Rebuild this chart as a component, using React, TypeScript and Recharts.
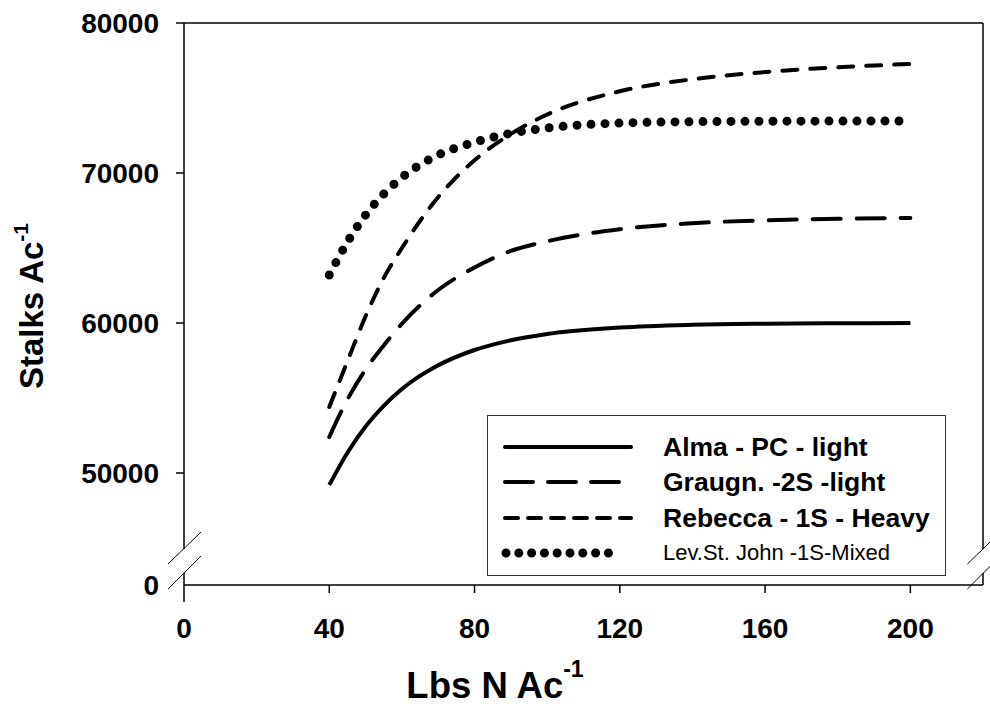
import React from "react";
import { LineChart, Line, XAxis, YAxis, ReferenceLine, Legend, Label } from "recharts";

// N rate (lbs N / acre)
const nRate = [40, 45, 50, 55, 60, 70, 80, 90, 100, 120, 140, 160, 180, 200];

// stalks per acre
const alma = [49200, 51350, 53100, 54480, 55600, 57180, 58200, 58850, 59270, 59700, 59880, 59950, 59980, 60000];
const graugn = [52400, 54900, 56900, 58500, 59950, 62200, 63700, 64800, 65450, 66250, 66650, 66850, 66950, 67000];
const rebecca = [54400, 57450, 60450, 63000, 65000, 68400, 70850, 72600, 73900, 75450, 76250, 76730, 77050, 77270];
const levStJohn = [63200, 65400, 67200, 68600, 69700, 71200, 72050, 72650, 73000, 73330, 73420, 73450, 73460, 73470];

const xTicks = [0, 40, 80, 120, 160, 200];
const yBottom = 42533; // broken axis: bottom drawn as "0"
const yTicks = [yBottom, 50000, 60000, 70000, 80000];

const seriesNames = ["Alma - PC - light", "Graugn. -2S -light", "Rebecca - 1S - Heavy", "Lev.St. John -1S-Mixed"];

const data = nRate.map((n, i) => ({
  n,
  alma: alma[i],
  graugn: graugn[i],
  rebecca: rebecca[i],
  lev: levStJohn[i],
}));

const font = "Arial, 'Liberation Sans', Helvetica, sans-serif";

const XTick = (props: any) => {
  const { x, payload } = props;
  return (
    <g>
      <line x1={x} y1={585} x2={x} y2={payload.value === 0 ? 602 : 593} stroke="#000" strokeWidth={1.5} />
      <text x={x} y={638} textAnchor="middle" fontFamily={font} fontWeight="bold" fontSize={28} fill="#000">
        {payload.value}
      </text>
    </g>
  );
};

const YTick = (props: any) => {
  const { y, payload } = props;
  const isZero = payload.value === yBottom;
  return (
    <g>
      {!isZero && <line x1={176} y1={y} x2={184} y2={y} stroke="#000" strokeWidth={1.5} />}
      <text x={159} y={y} dy="0.36em" textAnchor="end" fontFamily={font} fontWeight="bold" fontSize={28} fill="#000">
        {isZero ? 0 : payload.value}
      </text>
    </g>
  );
};

const LegendBox = () => {
  const rows = [
    { name: seriesNames[0], dash: undefined, w: 4, bold: true },
    { name: seriesNames[1], dash: "28 15", w: 4, bold: true },
    { name: seriesNames[2], dash: "13 10", w: 4, bold: true },
    { name: seriesNames[3], dash: "0 12.8", w: 9, bold: false },
  ];
  return (
    <div
      style={{
        width: 459,
        height: 161,
        boxSizing: "border-box",
        border: "1.5px solid #333",
        background: "#fff",
        position: "relative",
        fontFamily: font,
      }}
    >
      {rows.map((r, i) => (
        <div key={r.name} style={{ position: "absolute", left: 0, top: 31 + i * 35.3 - 15, height: 30, width: 459 }}>
          <svg width={150} height={30} style={{ position: "absolute", left: 0, top: 0 }}>
            <line
              x1={r.w === 9 ? 18 : 17}
              y1={15}
              x2={r.w === 9 ? 133 : 143}
              y2={15}
              stroke="#000"
              strokeWidth={r.w}
              strokeDasharray={r.dash}
              strokeLinecap="round"
            />
          </svg>
          <span
            style={{
              position: "absolute",
              left: 175,
              top: 0,
              lineHeight: "30px",
              fontSize: r.bold ? 26.5 : 22,
              fontWeight: r.bold ? "bold" : "normal",
              whiteSpace: "nowrap",
              color: "#000",
            }}
          >
            {r.name}
          </span>
        </div>
      ))}
    </div>
  );
};

export default function App() {
  const axis = { stroke: "#000", strokeWidth: 1.5 };
  return (
    <div style={{ position: "absolute", left: 0, top: 0, background: "#fff" }}>
      <LineChart width={990} height={707} data={data} margin={{ top: 23, right: 7, bottom: 0, left: 0 }}>
        <XAxis
          dataKey="n"
          type="number"
          domain={[0, 220]}
          ticks={xTicks}
          height={122}
          axisLine={axis}
          tickLine={false}
          tick={<XTick />}
          interval={0}
        >
          <Label
            content={() => (
              <text x={495} y={698} textAnchor="middle" fontFamily={font} fontWeight="bold" fontSize={36.5} fill="#000">
                Lbs N Ac
                <tspan dy={-21} fontSize={23}>-1</tspan>
              </text>
            )}
          />
        </XAxis>
        <YAxis
          type="number"
          domain={[yBottom, 80000]}
          ticks={yTicks}
          width={184}
          axisLine={false}
          tickLine={false}
          tick={<YTick />}
          interval={0}
          allowDataOverflow
        >
          <Label
            content={() => (
              <text
                transform="translate(43,306) rotate(-90)"
                textAnchor="middle"
                fontFamily={font}
                fontWeight="bold"
                fontSize={33}
                fill="#000"
              >
                Stalks Ac
                <tspan dy={-15} fontSize={21}>-1</tspan>
              </text>
            )}
          />
        </YAxis>

        {/* frame: top border, left axis and right border with break gaps */}
        <ReferenceLine y={80000} stroke="#000" strokeWidth={1.5} />
        <ReferenceLine segment={[{ x: 0, y: 80000 }, { x: 0, y: 44933 }]} stroke="#000" strokeWidth={1.5} />
        <ReferenceLine segment={[{ x: 0, y: 43333 }, { x: 0, y: yBottom }]} stroke="#000" strokeWidth={1.5} />
        <ReferenceLine segment={[{ x: 220, y: 80000 }, { x: 220, y: 44933 }]} stroke="#000" strokeWidth={1.5} />
        <ReferenceLine segment={[{ x: 220, y: 43333 }, { x: 220, y: yBottom }]} stroke="#000" strokeWidth={1.5} />
        {/* break marks */}
        <ReferenceLine segment={[{ x: -4.4, y: 43933 }, { x: 4.7, y: 46067 }]} stroke="#000" strokeWidth={1} ifOverflow="visible" />
        <ReferenceLine segment={[{ x: -4.4, y: 42267 }, { x: 4.7, y: 44467 }]} stroke="#000" strokeWidth={1} ifOverflow="visible" />
        <ReferenceLine segment={[{ x: 215.7, y: 43933 }, { x: 224.8, y: 46067 }]} stroke="#000" strokeWidth={1} ifOverflow="visible" />
        <ReferenceLine segment={[{ x: 215.7, y: 42267 }, { x: 224.8, y: 44467 }]} stroke="#000" strokeWidth={1} ifOverflow="visible" />

        <Line name={seriesNames[0]} dataKey="alma" type="monotone" stroke="#000" strokeWidth={4} dot={false} isAnimationActive={false} />
        <Line
          name={seriesNames[1]}
          dataKey="graugn"
          type="monotone"
          stroke="#000"
          strokeWidth={4}
          strokeDasharray="28 16"
          strokeLinecap="round"
          dot={false}
          isAnimationActive={false}
        />
        <Line
          name={seriesNames[2]}
          dataKey="rebecca"
          type="monotone"
          stroke="#000"
          strokeWidth={4}
          strokeDasharray="15 13"
          strokeLinecap="round"
          dot={false}
          isAnimationActive={false}
        />
        <Line
          name={seriesNames[3]}
          dataKey="lev"
          type="monotone"
          stroke="#000"
          strokeWidth={9}
          strokeDasharray="0 14"
          strokeLinecap="round"
          dot={false}
          isAnimationActive={false}
        />
        <Legend
          layout="vertical"
          align="center"
          verticalAlign="middle"
          content={<LegendBox />}
          wrapperStyle={{ position: "absolute", left: 487, top: 415, width: 459, height: 161 }}
        />
      </LineChart>
    </div>
  );
}
